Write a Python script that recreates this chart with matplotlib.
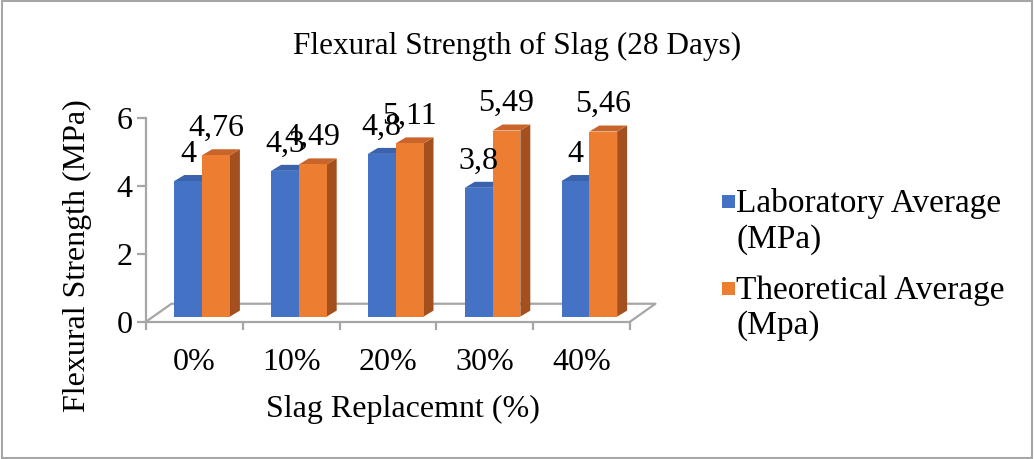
import matplotlib
matplotlib.use('Agg')

import matplotlib.pyplot as plt
from matplotlib.patches import Polygon, Rectangle
import numpy as np

# data
categories = ['0%', '10%', '20%', '30%', '40%']
lab_avg = [4.0, 4.3, 4.8, 3.8, 4.0]
theo_avg = [4.76, 4.49, 5.11, 5.49, 5.46]
series_names = ['Laboratory Average\n(MPa)', 'Theoretical Average\n(Mpa)']

plt.rcParams['font.family'] = ['Liberation Serif', 'DejaVu Serif']

blue, blue_side, blue_top = '#4472C4', '#2F5597', '#3A62AD'
orange, orange_side, orange_top = '#ED7D31', '#A3501E', '#C9652A'
axis_grey = '#A6A6A6'
FS = 23

fig = plt.figure(figsize=(10.34, 4.59), dpi=100)
ax = fig.add_axes([146 / 1034, 1 - 321.7 / 459, 484 / 1034, 203.4 / 459])
ax.set_xlim(0, len(categories))
ax.set_ylim(0, 6)

# fake 3D: bars sit a bit back on the floor, with a depth offset
shift_x, base_y = 0.08, 0.15
width = 0.287
ddx, ddy = 0.103, 0.177
floor_dx, floor_dy = 0.263, 0.53

centers = np.arange(len(categories)) + 0.5
x_blue = centers + shift_x - width
x_orange = centers + shift_x

# floor outline
x0, x1 = ax.get_xlim()
ax.plot([x0, x0 + floor_dx, x1 + floor_dx, x1], [0, floor_dy, floor_dy, 0],
        color=axis_grey, lw=1.6, clip_on=False, zorder=1)


def draw_3d(xs, vals, front, side, top, z):
    bars = ax.bar(xs, vals, width=width, bottom=base_y, align='edge',
                  color=front, zorder=z + 0.5, clip_on=False)
    for r in bars:
        xa, w = r.get_x(), r.get_width()
        b, t = r.get_y(), r.get_y() + r.get_height()
        xb = xa + w
        ax.add_patch(Polygon([(xb, b), (xb + ddx, b + ddy), (xb + ddx, t + ddy), (xb, t)],
                             closed=True, facecolor=side, edgecolor='none', zorder=z, clip_on=False))
        ax.add_patch(Polygon([(xa, t), (xb, t), (xb + ddx, t + ddy), (xa + ddx, t + ddy)],
                             closed=True, facecolor=top, edgecolor='none', zorder=z, clip_on=False))
    return bars


b1 = draw_3d(x_blue, lab_avg, blue, blue_side, blue_top, 2)
b2 = draw_3d(x_orange, theo_avg, orange, orange_side, orange_top, 4)

for bars, vals in [(b1, lab_avg), (b2, theo_avg)]:
    for r, v in zip(bars, vals):
        txt = f'{v:g}'.replace('.', ',')
        ax.annotate(txt, (r.get_x() + r.get_width() / 2, r.get_y() + r.get_height()),
                    xytext=(0, 14), textcoords='offset points', ha='center', va='baseline',
                    fontsize=FS, zorder=10, annotation_clip=False)

for s in ['top', 'right']:
    ax.spines[s].set_visible(False)
for s in ['left', 'bottom']:
    ax.spines[s].set_color(axis_grey)
    ax.spines[s].set_linewidth(1.6)

ax.set_yticks([0, 2, 4, 6])
ax.tick_params(axis='y', length=6.5, width=1.6, color=axis_grey, labelsize=FS, pad=3)
ax.set_xticks(np.arange(len(categories) + 1))
ax.set_xticklabels([])
ax.tick_params(axis='x', which='major', length=6, width=1.6, color=axis_grey)
ax.set_xticks(centers, minor=True)
ax.set_xticklabels(categories, minor=True)
ax.tick_params(axis='x', which='minor', length=0, labelsize=FS, pad=19)

ax.set_ylabel('Flexural Strength (MPa)', fontsize=FS)
ax.yaxis.set_label_coords(-0.112, 0.323)
ax.set_xlabel('Slag Replacemnt (%)', fontsize=FS)
ax.xaxis.set_label_coords(0.531, -0.36)

fig.text(0.5, 1 - 46 / 459, 'Flexural Strength of Slag (28 Days)',
         ha='center', va='center', fontsize=22.5)

# legend, square beside the first line of each entry like the original
leg_text_top = [188, 275]
leg_square_top = [195, 282]
for name, col, yt, ys in zip(series_names, [blue, orange], leg_text_top, leg_square_top):
    fig.text(736 / 1034, 1 - yt / 459, name, ha='left', va='top', fontsize=24, linespacing=1.2)
    fig.add_artist(Rectangle((722 / 1034, 1 - (ys + 13) / 459), 13 / 1034, 13 / 459,
                             transform=fig.transFigure, facecolor=col, edgecolor='none'))

# chart area border
fig.add_artist(Rectangle((0.002, 0.003), 0.996, 0.994, transform=fig.transFigure,
                         fill=False, edgecolor=axis_grey, lw=1.5))

fig.savefig('out.png', dpi=100)
plt.close(fig)
